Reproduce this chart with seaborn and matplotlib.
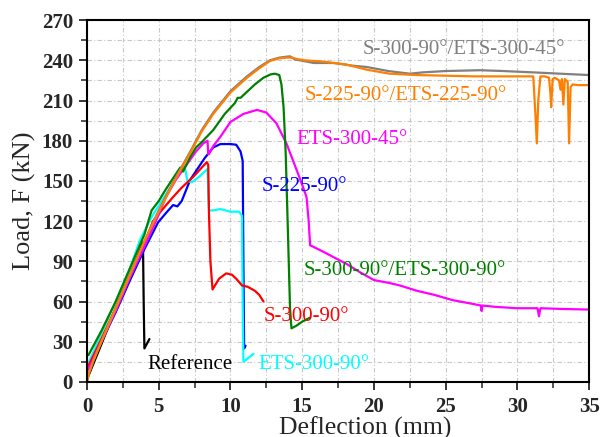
import numpy as np
import pandas as pd
import seaborn as sns
import matplotlib.pyplot as plt

# load-deflection curves
ref_x = [0, 0.5, 1, 2, 3, 3.5, 3.9, 3.95, 4.0, 4.35]
ref_y = [2, 15, 28, 55, 80, 93, 104, 60, 25, 32]

cyan_x = [0.1, 1, 2, 3, 3.7, 4.5, 5.5, 6.3, 6.8, 7.0, 7.3, 7.8, 8.4, 8.45, 8.5, 8.8, 9.3,
          10.0, 10.6, 10.8, 10.85, 10.9, 11.6]
cyan_y = [14, 36, 60, 85, 106, 123, 140, 153, 161, 150, 149, 153, 159, 140, 128, 128, 129,
          127, 127, 124, 60, 15, 21]

red_x = [0.1, 1, 2, 3, 4, 4.6, 5.2, 6.0, 6.6, 7.4, 8.0, 8.35, 8.45, 8.5, 8.6, 8.75, 9.2,
         9.7, 10.1, 10.4, 10.8, 11.2, 11.7, 12.0, 12.3]
red_y = [12, 32, 55, 80, 103, 120, 128, 138, 145, 153, 160, 164, 162, 126, 90, 69, 77,
         81, 80, 77, 72, 71, 68, 65, 60]

blue_x = [0.1, 1, 2, 3, 4, 4.95, 5.5, 6.0, 6.3, 6.6, 7.2, 8.2, 8.8, 9.3, 10.0, 10.4, 10.7,
          10.85, 10.9, 10.95, 11.05]
blue_y = [10, 30, 52, 76, 99, 119, 126, 132, 131, 135, 151, 167, 175, 177.5, 177.5, 177, 172,
          165, 90, 25, 27]

mag_x = [0, 0.3, 1, 2, 3, 4, 4.8, 5.5, 6.2, 7.0, 7.6, 8.1, 8.4, 8.45, 8.5, 8.8, 9.3, 10.0,
         10.9, 11.85, 12.5, 13.2, 13.9, 14.4, 14.9, 15.3, 15.45, 15.55, 16.5, 17.2, 18.1,
         19.0, 20.0, 21.0, 21.8, 23.0, 24.2, 25.5, 27.0, 27.45, 27.5, 27.55, 28.5, 30.0,
         31.4, 31.5, 31.6, 33.0, 35.0]
mag_y = [8, 14, 30, 53, 78, 101, 120, 138, 151, 163, 172, 178, 180, 170, 170, 176, 183, 194,
         200, 203, 201, 193, 178, 164, 150, 138, 120, 102, 97, 93, 88,
         82, 76, 74, 72, 68, 65, 61, 58, 57, 53, 57, 56, 55,
         55, 49, 55, 54.5, 54]

green_x = [0.1, 1, 2, 3, 4, 4.5, 5.0, 5.45, 6.0, 6.5, 6.7, 7.2, 7.6, 8.0, 8.8, 9.6, 10.3,
           10.5, 10.7, 11.1, 11.7, 12.3, 12.8, 13.1, 13.4, 13.55, 13.7, 13.85, 14.0, 14.15,
           14.25, 14.6, 15.0, 15.55]
green_y = [20, 38, 60, 85, 110, 128, 135, 143, 152, 160, 157, 168, 175, 179, 188, 200, 208,
           212, 212, 216, 222, 227, 229.5, 230, 229, 222, 205, 170, 113, 55,
           40, 42, 45, 48]

gray_x = [0, 0.15, 0.45, 1, 2, 3, 4, 5, 6, 7.2, 8.0, 8.8, 10.0, 11.15, 12.0, 12.75, 13.4,
          14.15, 14.5, 14.85, 15.8, 17.2, 18.5, 19.5, 21.0, 22.5, 23.4, 25.0, 27.4, 29.0,
          31.1, 33.0, 35.0]
gray_y = [0, 7, 16, 30, 55, 80, 105, 128, 149, 172, 188, 201, 217, 228, 235, 240, 242,
          243, 240.5, 240, 238, 238, 236, 235, 232, 230, 231, 232, 232.6, 232,
          231, 230, 229]

orange_x = [0, 0.15, 0.45, 1, 2, 3, 4, 5, 6, 7.2, 8.0, 8.8, 10.0, 11.15, 12.0, 12.75, 13.4,
            13.9, 14.3, 14.6, 15.2, 15.8, 16.5, 17.2, 18.0, 19.5, 21.1, 23.0, 25.0, 27.0,
            29.0, 30.5, 31.1, 31.25, 31.35, 31.45, 31.6, 31.9, 32.2, 32.3, 32.35, 32.45,
            32.6, 32.9, 33.0, 33.1, 33.2, 33.3, 33.5, 33.6, 33.7, 33.85, 34.2, 35.0]
orange_y = [0, 7, 16, 30, 55, 80, 105, 127, 148, 171, 187, 200, 216, 227, 234, 239.5, 241.5,
            242, 242, 241, 240, 239.5, 239, 238, 237, 233, 230, 229, 228.5, 228,
            228, 228, 228, 200, 178, 210, 228, 228, 227, 215, 205, 226,
            227, 225, 218, 226, 207, 226, 224, 178, 220, 222, 221.5, 221.5]

series = [
    (ref_x, ref_y, 'black'),
    (blue_x, blue_y, '#0000FF'),
    (cyan_x, cyan_y, '#00FFFF'),
    (red_x, red_y, '#FF0000'),
    (mag_x, mag_y, '#FF00FF'),
    (green_x, green_y, '#008000'),
    (gray_x, gray_y, '#808080'),
    (orange_x, orange_y, '#FF8000'),
]

labels = [
    ('S-300-90°/ETS-300-45°', 19.2, 248, '#808080'),
    ('S-225-90°/ETS-225-90°', 15.2, 214, '#FF8000'),
    ('ETS-300-45°', 14.6, 181, '#FF00FF'),
    ('S-225-90°', 12.2, 146, '#0000FF'),
    ('S-300-90°/ETS-300-90°', 15.1, 83, '#008000'),
    ('S-300-90°', 12.3, 49, '#FF0000'),
    ('Reference', 4.2, 12.7, 'black'),
    ('ETS-300-90°', 11.95, 12.7, '#00FFFF'),
]

sns.set_style('ticks')
plt.rcParams['font.family'] = ['Liberation Serif', 'DejaVu Serif']

fig, ax = plt.subplots(figsize=(6, 4.37), dpi=100)
fig.subplots_adjust(left=0.145, right=0.982, bottom=0.126, top=0.954)

for xs, ys, c in series:
    df = pd.DataFrame({'x': xs, 'y': ys})
    sns.lineplot(data=df, x='x', y='y', sort=False, estimator=None, color=c, lw=1.6, ax=ax)

for txt, x, y, c in labels:
    ax.text(x, y, txt, color=c, fontsize=15, ha='left', va='center')

ax.set_xlim(0, 35)
ax.set_ylim(0, 270)
ax.set_xticks(np.arange(0, 36, 5))
ax.set_xticks(np.arange(0, 36, 2.5), minor=True)
ax.set_yticks(np.arange(0, 271, 30))
ax.set_yticks(np.arange(0, 271, 15), minor=True)
ax.grid(which='both', color='#c8c8c8', lw=0.8, ls=(0, (4, 2, 1, 2)))
ax.set_axisbelow(True)

for lab in ax.get_xticklabels() + ax.get_yticklabels():
    lab.set_fontweight('bold')
ax.tick_params(which='major', direction='out', length=6, width=1.3, labelsize=15, pad=4)
ax.tick_params(axis='x', which='major', pad=5)
ax.tick_params(which='minor', direction='out', length=4, width=1.1)
for s in ax.spines.values():
    s.set_linewidth(1.5)
    s.set_color('black')

ax.set_xlabel('Deflection (mm)', fontsize=18.5)
ax.set_ylabel('Load, F (kN)', fontsize=19)
ax.xaxis.set_label_coords(0.554, -0.095)
ax.yaxis.set_label_coords(-0.102, 0.5)

fig.savefig('out.png', dpi=100)
